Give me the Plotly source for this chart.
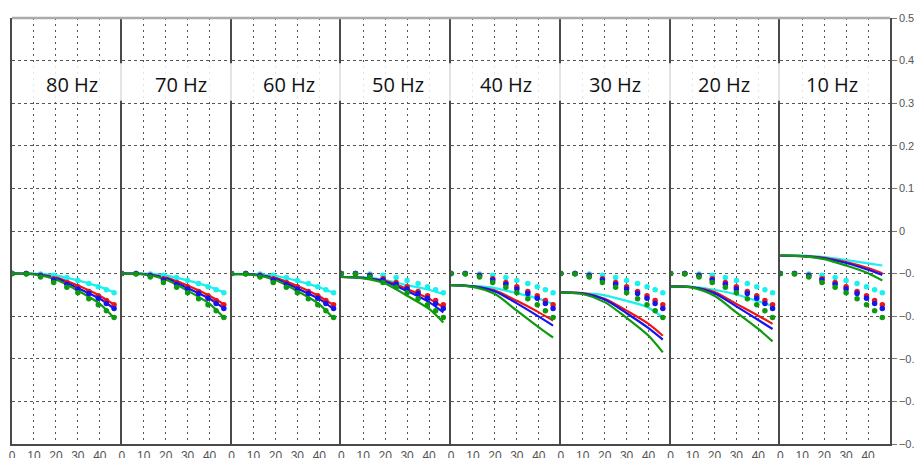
import plotly.graph_objects as go

# Panel labels (left to right)
FREQS = ["80 Hz", "70 Hz", "60 Hz", "50 Hz", "40 Hz", "30 Hz", "20 Hz", "10 Hz"]

# Horizontal axis ticks shown under each panel
X_TICKS = [0, 10, 20, 30, 40]
X_TICK_TEXT = ["0", "10", "20", "30", "40"]

# Measured points (same in every panel)
X_DOTS = [0, 6.5, 13, 19, 25, 30, 35, 39.3, 43, 46.5]
DOTS_CYAN = [-0.100, -0.100, -0.101, -0.104, -0.109, -0.116, -0.123, -0.131, -0.138, -0.145]
DOTS_RED = [-0.100, -0.100, -0.104, -0.112, -0.121, -0.131, -0.142, -0.152, -0.163, -0.173]
DOTS_BLUE = [-0.100, -0.100, -0.105, -0.115, -0.125, -0.136, -0.147, -0.158, -0.170, -0.182]
DOTS_GREEN = [-0.100, -0.101, -0.108, -0.121, -0.132, -0.145, -0.159, -0.173, -0.187, -0.203]

# Model curves, one row per panel (80 Hz ... 10 Hz)
X_LINE = [0, 10, 20, 30, 40, 46.5]
LINES_CYAN = [
    [-0.100, -0.100, -0.104, -0.116, -0.131, -0.144],
    [-0.100, -0.100, -0.104, -0.116, -0.131, -0.144],
    [-0.101, -0.101, -0.105, -0.117, -0.132, -0.145],
    [-0.108, -0.109, -0.115, -0.127, -0.138, -0.148],
    [-0.127, -0.129, -0.134, -0.146, -0.159, -0.171],
    [-0.144, -0.146, -0.151, -0.164, -0.180, -0.203],
    [-0.130, -0.131, -0.138, -0.149, -0.165, -0.176],
    [-0.058, -0.058, -0.061, -0.068, -0.076, -0.081],
]
LINES_RED = [
    [-0.100, -0.101, -0.109, -0.128, -0.152, -0.173],
    [-0.100, -0.101, -0.109, -0.128, -0.152, -0.172],
    [-0.101, -0.102, -0.110, -0.129, -0.153, -0.174],
    [-0.108, -0.110, -0.117, -0.136, -0.159, -0.179],
    [-0.127, -0.130, -0.140, -0.164, -0.191, -0.210],
    [-0.144, -0.146, -0.159, -0.187, -0.218, -0.246],
    [-0.130, -0.132, -0.143, -0.171, -0.199, -0.218],
    [-0.058, -0.059, -0.063, -0.073, -0.087, -0.099],
]
LINES_BLUE = [
    [-0.100, -0.101, -0.111, -0.134, -0.159, -0.182],
    [-0.100, -0.101, -0.111, -0.134, -0.159, -0.181],
    [-0.101, -0.102, -0.112, -0.135, -0.160, -0.183],
    [-0.108, -0.110, -0.119, -0.141, -0.167, -0.191],
    [-0.127, -0.130, -0.142, -0.170, -0.201, -0.222],
    [-0.144, -0.147, -0.161, -0.193, -0.228, -0.255],
    [-0.130, -0.132, -0.146, -0.177, -0.209, -0.230],
    [-0.058, -0.059, -0.064, -0.075, -0.091, -0.103],
]
LINES_GREEN = [
    [-0.100, -0.102, -0.114, -0.140, -0.171, -0.204],
    [-0.100, -0.102, -0.114, -0.140, -0.171, -0.203],
    [-0.101, -0.103, -0.115, -0.141, -0.172, -0.205],
    [-0.108, -0.111, -0.123, -0.152, -0.183, -0.215],
    [-0.127, -0.131, -0.148, -0.187, -0.226, -0.250],
    [-0.144, -0.148, -0.167, -0.204, -0.246, -0.285],
    [-0.130, -0.133, -0.152, -0.191, -0.230, -0.259],
    [-0.058, -0.059, -0.066, -0.081, -0.099, -0.116],
]

COLORS = {"cyan": "#19f0f0", "red": "#f01414", "blue": "#1414f0", "green": "#0e9a0e"}
SERIES = [
    ("cyan", DOTS_CYAN, LINES_CYAN),
    ("red", DOTS_RED, LINES_RED),
    ("blue", DOTS_BLUE, LINES_BLUE),
    ("green", DOTS_GREEN, LINES_GREEN),
]

W, H = 914, 458
ML, MR, MT, MB = 12, 24, 18, 14
N = len(FREQS)

fig = go.Figure()

for i in range(N):
    xa = "x" if i == 0 else f"x{i + 1}"
    ya = "y" if i == 0 else f"y{i + 1}"
    for name, dots, lines in SERIES:
        fig.add_trace(go.Scatter(
            x=X_LINE, y=lines[i], xaxis=xa, yaxis=ya, mode="lines",
            line=dict(color=COLORS[name], width=2.2, shape="spline", smoothing=0.8),
            showlegend=False, hoverinfo="skip",
        ))
    for name, dots, lines in SERIES:
        fig.add_trace(go.Scatter(
            x=X_DOTS, y=dots, xaxis=xa, yaxis=ya, mode="markers",
            marker=dict(color=COLORS[name], size=5.5, symbol="circle"),
            showlegend=False, hoverinfo="skip",
        ))

AXIS_LINE = "#4a4a4a"
GRID = "#555555"
X_TICK_FONT = dict(family="Liberation Sans", size=12, color="#555555")
Y_TICK_FONT = dict(family="Liberation Sans", size=11, color="#555555")

layout = dict(
    width=W, height=H,
    margin=dict(l=ML, r=MR, t=MT, b=MB, pad=0, autoexpand=False),
    paper_bgcolor="white", plot_bgcolor="white",
    showlegend=False,
)

for i in range(N):
    xk = "xaxis" if i == 0 else f"xaxis{i + 1}"
    yk = "yaxis" if i == 0 else f"yaxis{i + 1}"
    ya = "y" if i == 0 else f"y{i + 1}"
    xa = "x" if i == 0 else f"x{i + 1}"
    layout[xk] = dict(
        domain=[i / N, (i + 1) / N], anchor=ya, range=[0, 50],
        tickvals=X_TICKS, ticktext=X_TICK_TEXT, ticks="",
        showgrid=True, gridcolor=GRID, gridwidth=1, griddash="2px,4px",
        zeroline=False, showline=True, linecolor=AXIS_LINE, linewidth=1.5,
        mirror=False, tickfont=X_TICK_FONT, fixedrange=True, automargin=False,
    )
    ycfg = dict(
        anchor=xa, range=[-0.5, 0.5], dtick=0.1, tick0=0,
        showgrid=True, gridcolor=GRID, gridwidth=1, griddash="3px,3px",
        zeroline=False, showline=True, linecolor=AXIS_LINE, linewidth=1.5,
        fixedrange=True, automargin=False,
    )
    if i == N - 1:
        # last panel carries the value axis on the right plus both borders
        ycfg.update(side="right", mirror=True, showticklabels=True,
                    ticks="outside", ticklen=5, tickcolor="#777777",
                    tickfont=Y_TICK_FONT)
    else:
        # one border on the left of each panel
        ycfg.update(side="left", mirror=False, showticklabels=False, ticks="")
    if i > 0:
        ycfg["matches"] = "y"
    layout[yk] = ycfg

fig.update_layout(**layout)

# Light band behind the panel labels
fig.add_shape(type="rect", xref="paper", yref="y", x0=0.002, x1=0.998,
              y0=0.306, y1=0.394, fillcolor="rgba(255,255,255,0.85)",
              line=dict(width=0), layer="above")
# Lighter top edge of the frame
fig.add_shape(type="line", xref="paper", yref="paper", x0=0, x1=1, y0=1, y1=1,
              line=dict(color="#aaaaaa", width=2.5), layer="above")

plot_w = W - ML - MR
for i, label in enumerate(FREQS):
    cx = 72 + 108.6 * i
    fig.add_annotation(
        text=label, xref="paper", yref="y", x=(cx - ML) / plot_w, y=0.343,
        xanchor="center", yanchor="middle", showarrow=False,
        font=dict(family="Open Sans", size=20, color="#111111"),
    )

fig.write_html("out.html")
